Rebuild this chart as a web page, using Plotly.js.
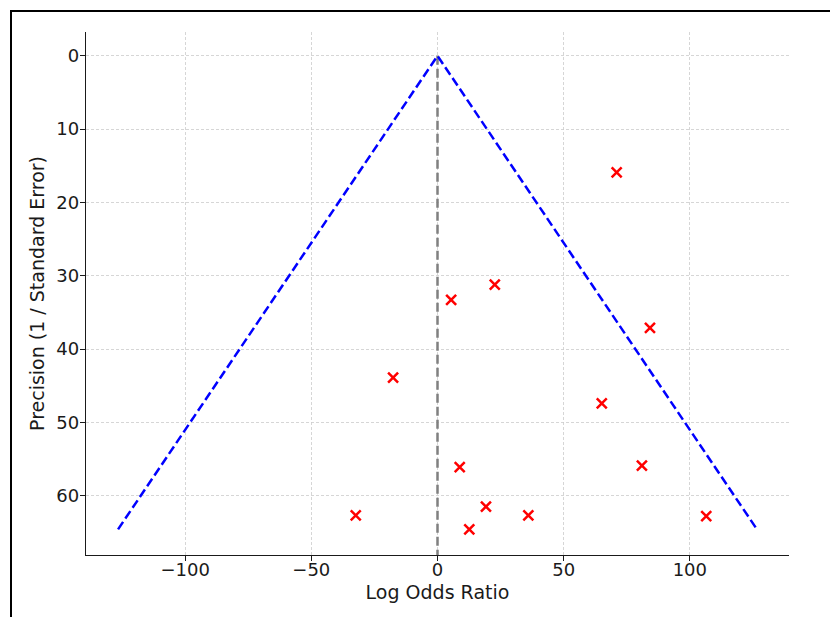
<!DOCTYPE html>
<html>
<head>
<meta charset="utf-8">
<script src="https://cdn.plot.ly/plotly-3.0.1.min.js"></script>
<style>
  html, body { margin: 0; padding: 0; overflow: hidden; background: #fff; }
  #chart { width: 830px; height: 617px; position: absolute; left: 0; top: 0; }
  #frame { position: absolute; left: 10px; top: 10px; width: 900px; height: 700px; border: 2px solid #000; pointer-events: none; }
</style>
</head>
<body>
<div id="chart"></div>
<div id="frame"></div>
<script>
// Study effects (log odds ratio) and precision
const logOddsRatio = [71.0, 22.7, 5.4, 84.2, -17.6, 65.1, 8.8, 81.0, -32.4, 19.2, 36.0, 12.6, 106.5];
const precision    = [15.9, 31.2, 33.3, 37.1, 43.9, 47.4, 56.1, 55.9, 62.7, 61.5, 62.7, 64.6, 62.8];

// Funnel boundaries (±1.96 × precision)
const funnelX = [-126.6, 0, 126.6];
const funnelY = [64.6, 0, 64.6];

// Reference line at zero effect
const refX = [0, 0];
const refY = [0, 68.1];

const xTicks = [-100, -50, 0, 50, 100];
const yTicks = [0, 10, 20, 30, 40, 50, 60];

const tickFont = { family: 'DejaVu Sans, sans-serif', size: 18, color: '#1a1a1a' };
const titleFont = { family: 'DejaVu Sans, sans-serif', size: 19, color: '#1a1a1a' };

const traces = [
  {
    x: refX, y: refY, mode: 'lines', type: 'scatter',
    line: { color: '#808080', width: 2.5, dash: '9px,4px' }, hoverinfo: 'skip'
  },
  {
    x: funnelX, y: funnelY, mode: 'lines', type: 'scatter',
    line: { color: '#0000ff', width: 2.5, dash: '9px,4px' }
  },
  {
    x: logOddsRatio, y: precision, mode: 'markers', type: 'scatter',
    marker: { symbol: 'x-thin-open', size: 10, color: '#ff0000', line: { color: '#ff0000', width: 2.5 } }
  }
];

const axisCommon = {
  showgrid: true, gridcolor: '#cccccc', griddash: '3px,2px', gridwidth: 0.8,
  zeroline: false,
  showline: true, linecolor: '#1a1a1a', linewidth: 1.3,
  ticks: 'outside', ticklen: 5, tickwidth: 1, tickcolor: '#1a1a1a',
  tickfont: tickFont
};

const layout = {
  width: 830, height: 617,
  margin: { l: 86, r: 41, t: 32, b: 62 },
  paper_bgcolor: 'rgba(0,0,0,0)', plot_bgcolor: 'rgba(0,0,0,0)',
  showlegend: false,
  font: tickFont,
  xaxis: Object.assign({}, axisCommon, {
    range: [-139.3, 139.3],
    tickvals: xTicks,
    ticklabelstandoff: -7,
    title: { text: 'Log Odds Ratio', font: titleFont, standoff: 6 }
  }),
  yaxis: Object.assign({}, axisCommon, {
    range: [68.1, -3.25],
    tickvals: yTicks,
    ticklabelstandoff: -3,
    title: { text: 'Precision (1 / Standard Error)', font: titleFont, standoff: 6 }
  })
};

Plotly.newPlot('chart', traces, layout, { displayModeBar: false, staticPlot: true });
</script>
</body>
</html>
